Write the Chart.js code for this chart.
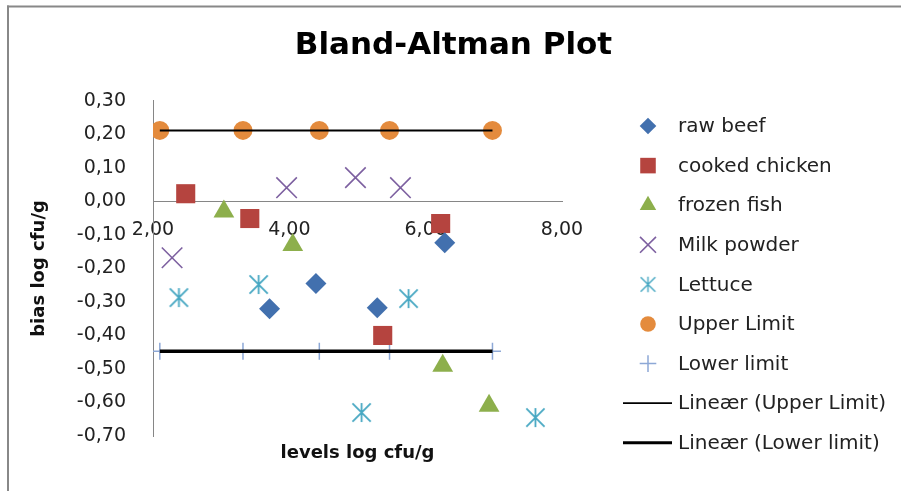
<!DOCTYPE html>
<html>
<head>
<meta charset="utf-8">
<title>Bland-Altman Plot</title>
<script src="https://cdn.jsdelivr.net/npm/chart.js@4.4.0/dist/chart.umd.min.js"></script>
<style>
  html, body { margin: 0; padding: 0; background: #fff; }
</style>
</head>
<body>
<canvas id="chart" width="901" height="491"></canvas>
<script>
// values
const rawBeefX = [3.71, 4.39, 5.29, 6.28];
const rawBeefY = [-0.32, -0.245, -0.317, -0.123];
const chickenX = [2.48, 3.42, 5.37, 6.22];
const chickenY = [0.023, -0.051, -0.40, -0.066];
const fishX = [3.04, 4.05, 6.25, 6.93];
const fishY = [-0.03, -0.13, -0.49, -0.61];
const milkX = [2.28, 3.96, 4.97, 5.63];
const milkY = [-0.168, 0.041, 0.071, 0.041];
const lettuceX = [2.38, 3.55, 5.06, 5.75, 7.61];
const lettuceY = [-0.287, -0.248, -0.63, -0.29, -0.645];
const limitX = [2.10, 3.32, 4.44, 5.47, 6.98];
const upperY = [0.212, 0.212, 0.212, 0.212, 0.212];
const lowerY = [-0.447, -0.447, -0.447, -0.447, -0.447];

const xTicks = [2, 4, 6, 8];
const yTicks = [-0.7, -0.6, -0.5, -0.4, -0.3, -0.2, -0.1, 0, 0.1, 0.2, 0.3];

const FONT = 'DejaVu Sans';
const TEXT = '#222';
const fmt = v => Number(v).toFixed(2).replace('.', ',');
const pts = (xs, ys) => xs.map((x, i) => ({ x: x, y: ys[i] }));

// Excel style "star" marker: an X with a vertical bar
function asterisk(size, color, lw) {
  const c = document.createElement('canvas');
  c.width = c.height = size;
  const g = c.getContext('2d');
  const a = lw / 2 + 0.5, b = size - a;
  g.strokeStyle = color;
  g.lineWidth = lw;
  g.beginPath();
  g.moveTo(a, a); g.lineTo(b, b);
  g.moveTo(b, a); g.lineTo(a, b);
  g.moveTo(size / 2, a - 0.5); g.lineTo(size / 2, b + 0.5);
  g.stroke();
  return c;
}

const lettuceColor = '#46A7C2';

const datasets = [
  { label: 'Lineær (Upper Limit)', data: pts(limitX, upperY), showLine: true, pointRadius: 0,
    borderColor: '#000', borderWidth: 2, order: 0, legendRank: 7 },
  { label: 'Lineær (Lower limit)', data: pts(limitX, lowerY), showLine: true, pointRadius: 0,
    borderColor: '#000', borderWidth: 3.5, order: 0, legendRank: 8 },
  { label: 'raw beef', data: pts(rawBeefX, rawBeefY), pointStyle: 'rectRot', pointRadius: 10.5,
    pointBackgroundColor: '#4270AE', pointBorderColor: '#4270AE', pointBorderWidth: 0,
    order: 1, legendRank: 0, legendRadius: 8.3 },
  { label: 'cooked chicken', data: pts(chickenX, chickenY), pointStyle: 'rect', pointRadius: 13.5,
    pointBackgroundColor: '#B5443F', pointBorderColor: '#B5443F', pointBorderWidth: 0,
    order: 1, legendRank: 1, legendRadius: 11 },
  { label: 'frozen fish', data: pts(fishX, fishY), pointStyle: 'triangle', pointRadius: 12,
    pointBackgroundColor: '#8DAF4C', pointBorderColor: '#8DAF4C', pointBorderWidth: 0,
    order: 1, legendRank: 2, legendRadius: 9.5 },
  { label: 'Milk powder', data: pts(milkX, milkY), pointStyle: 'crossRot', pointRadius: 14.5,
    pointBackgroundColor: '#7D60A0', pointBorderColor: '#7D60A0', pointBorderWidth: 1.6,
    order: 1, legendRank: 3, legendRadius: 11.3 },
  { label: 'Lettuce', data: pts(lettuceX, lettuceY), pointStyle: asterisk(21, lettuceColor, 1.8), pointRadius: 10,
    pointBackgroundColor: lettuceColor, pointBorderColor: lettuceColor, pointBorderWidth: 0,
    order: 1, legendRank: 4, legendStyle: asterisk(17, lettuceColor, 1.4), legendRadius: 8 },
  { label: 'Upper Limit', data: pts(limitX, upperY), pointStyle: 'circle', pointRadius: 9.5,
    pointBackgroundColor: '#E48B3D', pointBorderColor: '#E48B3D', pointBorderWidth: 0,
    order: 1, legendRank: 5, legendRadius: 7.8 },
  { label: 'Lower limit', data: pts(limitX, lowerY), pointStyle: 'cross', pointRadius: 8.5,
    pointBackgroundColor: '#8DA8D6', pointBorderColor: '#8DA8D6', pointBorderWidth: 1.5,
    order: 1, legendRank: 6, legendRadius: 8.3 }
];

// gray frame at the top and left edge, like the cropped Excel chart
const frame = {
  id: 'frame',
  beforeDraw(chart) {
    const ctx = chart.ctx;
    ctx.save();
    ctx.fillStyle = '#fff';
    ctx.fillRect(0, 0, chart.width, chart.height);
    ctx.fillStyle = '#888';
    ctx.fillRect(7, 5.5, chart.width - 7, 2);
    ctx.fillRect(7, 5.5, 2, chart.height - 5.5);
    ctx.restore();
  }
};

// legend to the right of the plot, markers and trend lines share one column
const sideLegend = {
  id: 'sideLegend',
  afterDraw(chart) {
    const ctx = chart.ctx;
    const items = chart.data.datasets.slice().sort((a, b) => a.legendRank - b.legendRank);
    const cx = chart.chartArea.right + 86;
    ctx.save();
    ctx.font = '20px "' + FONT + '"';
    ctx.textBaseline = 'middle';
    items.forEach((ds, i) => {
      const y = 126 + i * 39.6;
      if (ds.showLine) {
        ctx.strokeStyle = ds.borderColor;
        ctx.lineWidth = ds.borderWidth * 0.85;
        ctx.beginPath();
        ctx.moveTo(cx - 25, y);
        ctx.lineTo(cx + 24, y);
        ctx.stroke();
      } else {
        ctx.fillStyle = ds.pointBackgroundColor;
        ctx.strokeStyle = ds.pointBorderColor;
        ctx.lineWidth = ds.pointBorderWidth;
        Chart.helpers.drawPoint(ctx, {
          pointStyle: ds.legendStyle || ds.pointStyle,
          radius: ds.legendRadius,
          borderWidth: ds.pointBorderWidth,
          rotation: 0
        }, cx, y);
      }
      ctx.fillStyle = TEXT;
      ctx.fillText(ds.label, cx + 30, y + 1);
    });
    ctx.restore();
  }
};

new Chart(document.getElementById('chart'), {
  type: 'scatter',
  data: { datasets: datasets },
  options: {
    responsive: false,
    animation: false,
    events: [],
    layout: { padding: { left: 6, right: 0, top: 8, bottom: 0 } },
    plugins: {
      legend: { display: false },
      tooltip: { enabled: false },
      title: {
        display: true,
        text: 'Bland-Altman Plot',
        color: '#000',
        font: { family: FONT, size: 31, weight: 'bold' },
        padding: { top: 19, bottom: 36.7 }
      }
    },
    scales: {
      x: {
        type: 'linear',
        position: { y: 0 },
        min: 2, max: 8,
        afterBuildTicks: s => { s.ticks = xTicks.map(v => ({ value: v })); },
        ticks: { callback: v => fmt(v), font: { family: FONT, size: 19 }, color: TEXT,
                 padding: 17, maxRotation: 0, autoSkip: false },
        grid: { display: false, drawTicks: false },
        border: { display: true, color: '#868686', width: 1 }
      },
      y: {
        type: 'linear',
        position: 'left',
        min: -0.7, max: 0.3,
        afterBuildTicks: s => { s.ticks = yTicks.map(v => ({ value: v })); },
        ticks: { callback: v => fmt(v), font: { family: FONT, size: 19 }, color: TEXT, padding: 27 },
        grid: { display: false, drawTicks: false },
        border: { display: true, color: '#868686', width: 1 },
        title: { display: true, text: 'bias log cfu/g', color: '#111',
                 font: { family: FONT, size: 18, weight: 'bold' }, padding: { top: 23, bottom: 0 } },
        afterFit: s => { s.width = 147; }
      },
      xTitle: {
        type: 'linear',
        axis: 'x',
        position: 'bottom',
        ticks: { display: false },
        grid: { display: false, drawTicks: false },
        border: { display: false },
        title: { display: true, text: 'levels log cfu/g', color: '#111',
                 font: { family: FONT, size: 18, weight: 'bold' }, padding: { top: 0, bottom: 27 } },
        afterFit: s => { s.height = 55; }
      },
      legendSpace: {
        type: 'linear',
        axis: 'y',
        position: 'right',
        ticks: { display: false },
        grid: { display: false, drawTicks: false },
        border: { display: false },
        afterFit: s => { s.width = 339; }
      }
    }
  },
  plugins: [frame, sideLegend]
});
</script>
</body>
</html>
